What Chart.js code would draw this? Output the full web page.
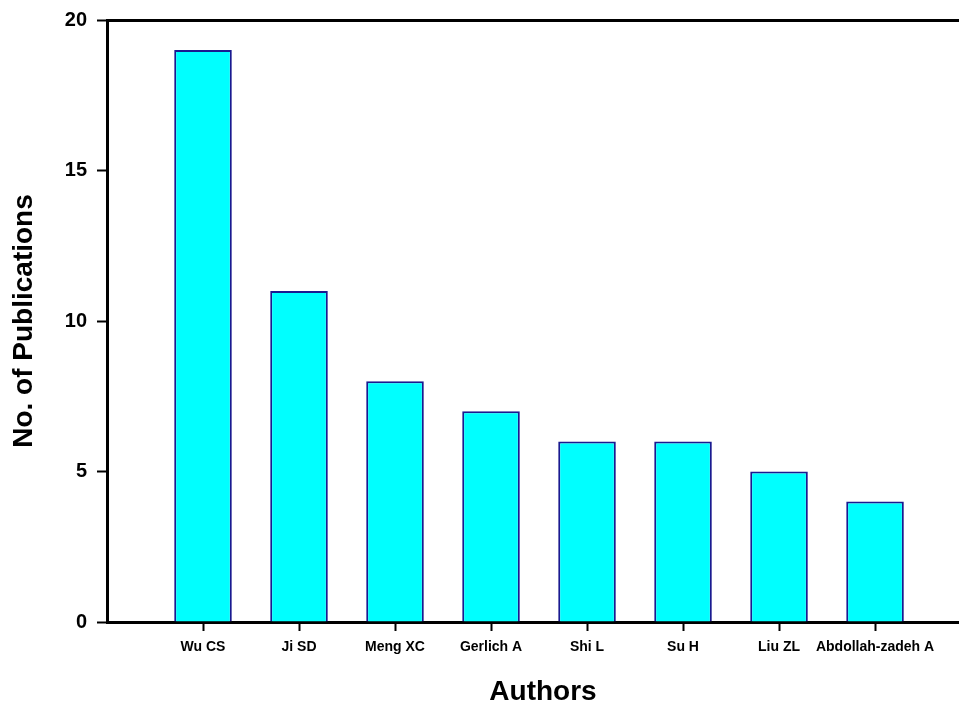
<html>
<head>
<script src="https://cdn.jsdelivr.net/npm/chart.js"></script>
<style>
  html, body { margin: 0; background: #fff; overflow: hidden; }
  /* the original plot runs a little past the right edge of the picture */
  #wrap { width: 979px; height: 707px; position: relative; }
</style>
</head>
<body>
<div id="wrap"><canvas id="authorsChart"></canvas></div>
<script>
// authors and their publication counts
const authors = ['Wu CS', 'Ji SD', 'Meng XC', 'Gerlich A', 'Shi L', 'Su H', 'Liu ZL', 'Abdollah-zadeh A'];
const publications = [19, 11, 8, 7, 6, 6, 5, 4];
const yTicks = [0, 5, 10, 15, 20];

// bars sit at x = 1..8 on a linear axis (slot 0 is left empty like the original)
const points = authors.map((name, i) => ({ x: i + 1, y: publications[i] }));

const ctx = document.getElementById('authorsChart').getContext('2d');
new Chart(ctx, {
    type: 'bar',
    data: {
        datasets: [{
            label: 'No. of Publications',
            data: points,
            backgroundColor: '#00ffff',
            borderColor: '#1a1a90',
            borderWidth: 2,
            barPercentage: 0.6,
            categoryPercentage: 1
        }]
    },
    options: {
        responsive: true,
        maintainAspectRatio: false,
        animation: false,
        layout: { padding: 0 },
        plugins: {
            legend: { display: false },
            tooltip: { enabled: false }
        },
        scales: {
            x: {
                type: 'linear',
                position: 'bottom',
                offset: false,
                min: 0,
                max: 9.083,
                afterBuildTicks: function (scale) {
                    scale.ticks = authors.map((a, i) => ({ value: i + 1 }));
                },
                afterFit: function (scale) { scale.height = 85; },
                ticks: {
                    autoSkip: false,
                    maxRotation: 0,
                    padding: 8,
                    color: '#000',
                    font: { family: 'Liberation Sans, Arial, sans-serif', size: 14, weight: 'bold' },
                    callback: function (value) { return authors[value - 1] || ''; }
                },
                grid: {
                    offset: false,
                    drawOnChartArea: false,
                    drawTicks: true,
                    tickLength: 9,
                    tickWidth: 2,
                    tickColor: '#000'
                },
                border: { display: true, width: 3, color: '#000' },
                title: {
                    display: true,
                    text: 'Authors',
                    color: '#000',
                    font: { family: 'Liberation Sans, Arial, sans-serif', size: 28, weight: 'bold', lineHeight: 1 },
                    padding: { top: 0, bottom: 1 }
                }
            },
            xTop: {
                type: 'linear',
                position: 'top',
                min: 0,
                max: 1,
                afterFit: function (scale) { scale.height = 18; },
                ticks: { display: false },
                grid: { display: false, drawTicks: false },
                border: { display: true, width: 3, color: '#000' }
            },
            y: {
                min: 0,
                max: 20,
                afterBuildTicks: function (scale) {
                    scale.ticks = yTicks.map(v => ({ value: v }));
                },
                afterFit: function (scale) { scale.width = 107; },
                ticks: {
                    padding: 10,
                    color: '#000',
                    font: { family: 'Liberation Sans, Arial, sans-serif', size: 20, weight: 'bold', lineHeight: 1 }
                },
                grid: {
                    drawOnChartArea: false,
                    drawTicks: true,
                    tickLength: 10,
                    tickWidth: 2,
                    tickColor: '#000'
                },
                border: { display: true, width: 3, color: '#000' },
                title: {
                    display: true,
                    text: 'No. of Publications',
                    color: '#000',
                    font: { family: 'Liberation Sans, Arial, sans-serif', size: 28, weight: 'bold', lineHeight: 1 },
                    padding: { top: 10, bottom: 0 }
                }
            }
        }
    }
});
</script>
</body>
</html>
